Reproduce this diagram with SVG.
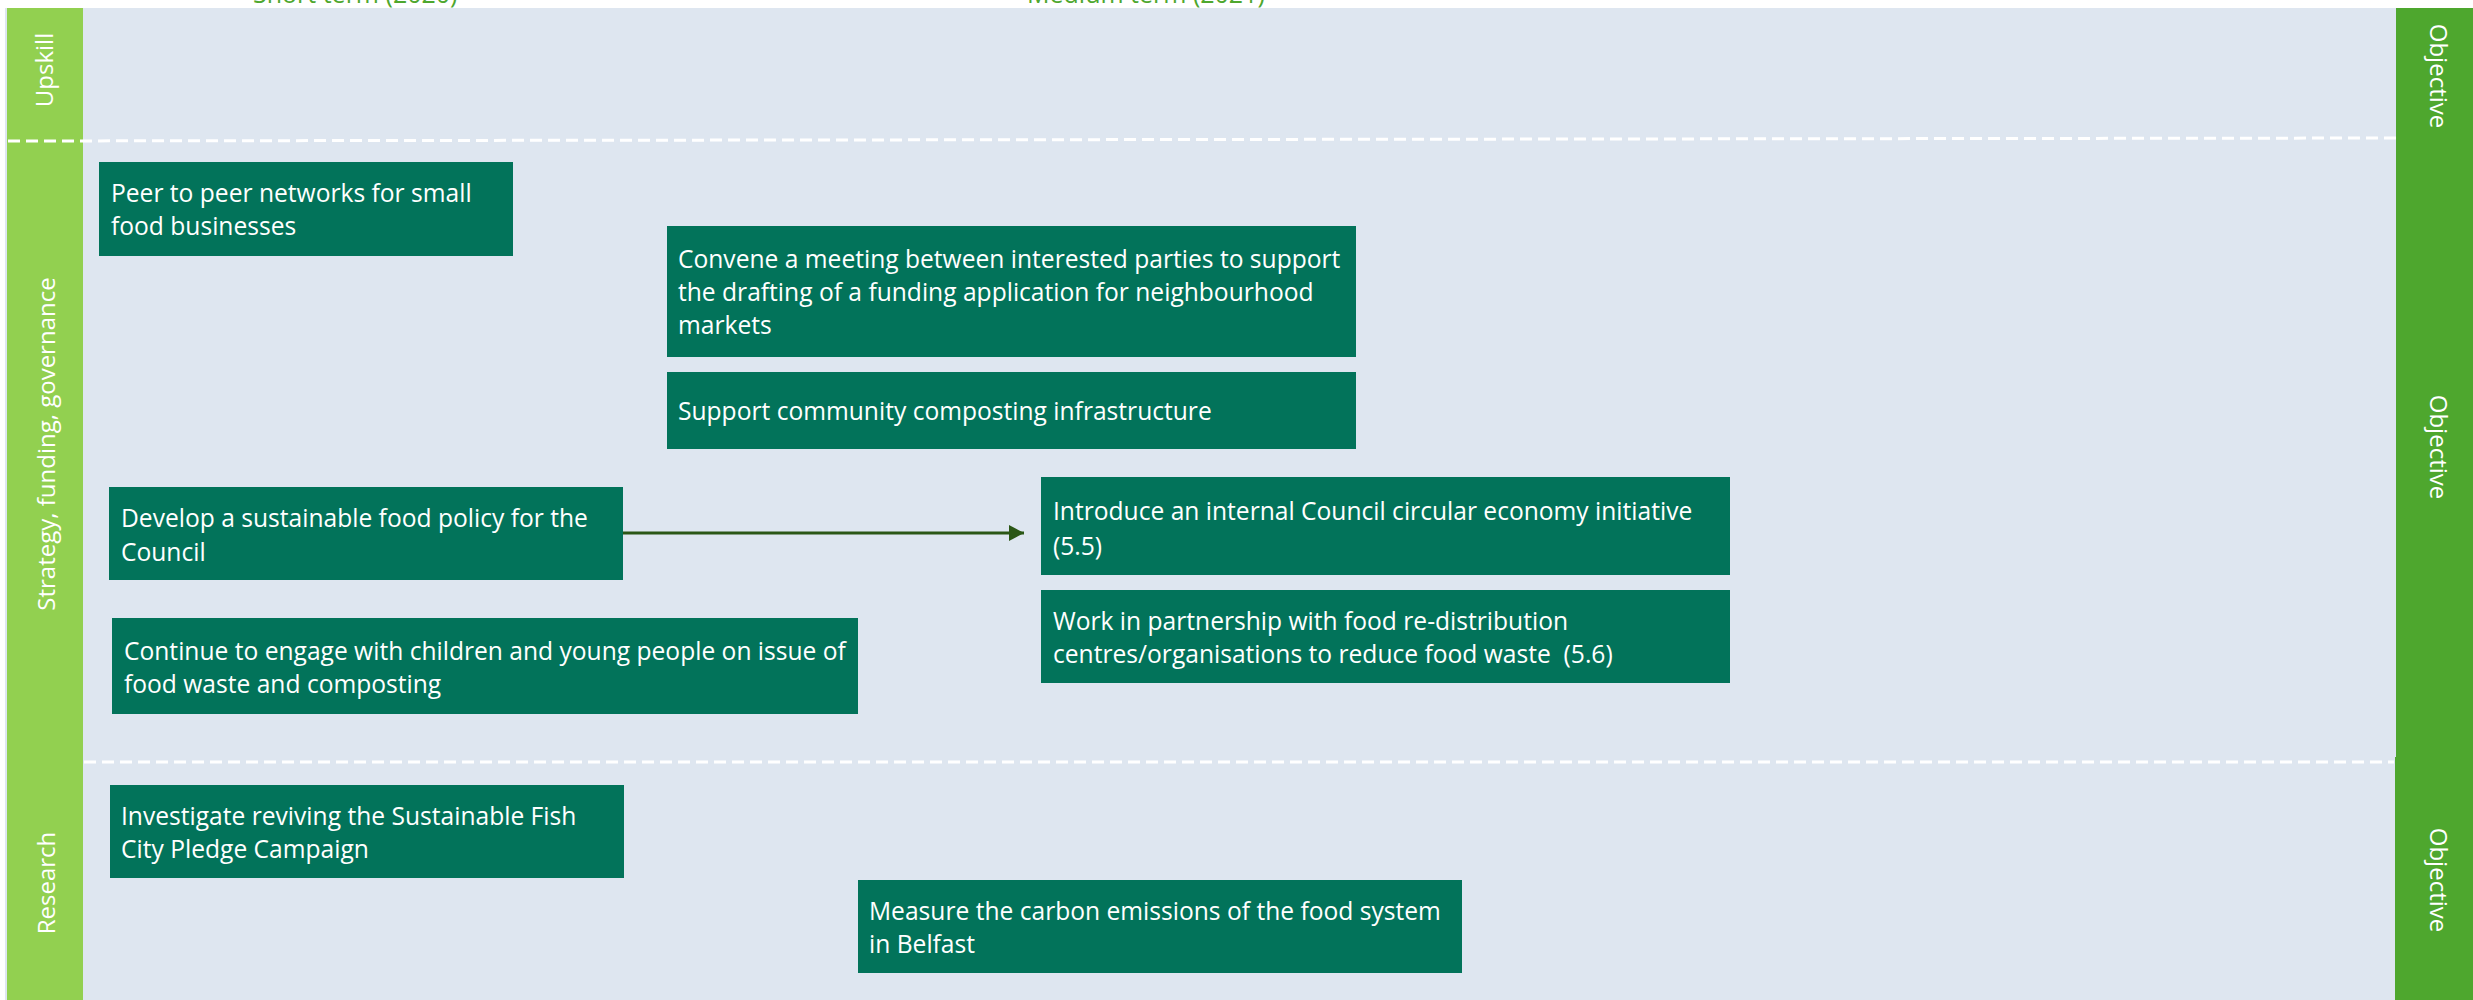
<svg xmlns="http://www.w3.org/2000/svg" width="2473" height="1000" viewBox="0 0 2473 1000">
<defs>
<style>
.bg{fill:#DEE6F0}
.lbar{fill:#92D050}
.rbar{fill:#4EA72E}
.box{fill:#02735A}
.bt{font-family:"Open Sans","Liberation Sans",sans-serif;font-size:24.6px;fill:#FFFFFF}
.side{font-family:"Open Sans","Liberation Sans",sans-serif;font-size:24px;fill:#FFFFFF;text-anchor:middle}
.hdr{font-family:"Open Sans","Liberation Sans",sans-serif;font-size:25px;fill:#4EA72E}
.dash{stroke:#FFFFFF;stroke-width:3;stroke-dasharray:12 6;fill:none}
.conn{stroke:#2B5716;stroke-width:3;fill:none}
</style>
<marker id="arr" markerWidth="16" markerHeight="16" refX="15" refY="8" orient="auto" markerUnits="userSpaceOnUse">
<path d="M0,0 L15,8 L0,16 Z" fill="#2B5716"/>
</marker>
</defs>
<rect x="0" y="0" width="2473" height="1000" fill="#FFFFFF"/>
<rect class="bg" x="5" y="8" width="2468" height="992"/>
<g id="headers">
<text class="hdr" x="253" y="3">Short term (2020)</text>
<text class="hdr" x="1027" y="3">Medium term (2021)</text>
</g>
<g id="lane-left">
<rect class="lbar" x="7" y="8" width="76" height="992"/>
<text class="side" transform="translate(53,70) rotate(-90)">Upskill</text>
<text class="side" transform="translate(55,444) rotate(-90)">Strategy, funding, governance</text>
<text class="side" transform="translate(55,883) rotate(-90)">Research</text>
</g>
<g id="lane-right">
<rect class="rbar" x="2396" y="8" width="77" height="750"/>
<rect class="rbar" x="2395" y="757" width="78" height="243"/>
<text class="side" transform="translate(2430,76) rotate(90)">Objective</text>
<text class="side" transform="translate(2430,447) rotate(90)">Objective</text>
<text class="side" transform="translate(2430,880) rotate(90)">Objective</text>
</g>
<g id="dividers">
<line class="dash" x1="8" y1="141" x2="2396" y2="138"/>
<line class="dash" x1="84" y1="762" x2="2394" y2="762"/>
</g>
<g id="connectors">
<line class="conn" x1="623" y1="533" x2="1024" y2="533" marker-end="url(#arr)"/>
</g>
<g id="n-peer">
<rect class="box" x="99" y="162" width="414" height="94"/>
<text class="bt" x="111" y="202">Peer to peer networks for small</text>
<text class="bt" x="111" y="235">food businesses</text>
</g>
<g id="n-convene">
<rect class="box" x="667" y="226" width="689" height="131"/>
<text class="bt" x="678" y="268">Convene a meeting between interested parties to support</text>
<text class="bt" x="678" y="301">the drafting of a funding application for neighbourhood</text>
<text class="bt" x="678" y="334">markets</text>
</g>
<g id="n-compost">
<rect class="box" x="667" y="372" width="689" height="77"/>
<text class="bt" x="678" y="420">Support community composting infrastructure</text>
</g>
<g id="n-policy">
<rect class="box" x="109" y="487" width="514" height="93"/>
<text class="bt" x="121" y="527">Develop a sustainable food policy for the</text>
<text class="bt" x="121" y="561">Council</text>
</g>
<g id="n-circular">
<rect class="box" x="1041" y="477" width="689" height="98"/>
<text class="bt" x="1053" y="520">Introduce an internal Council circular economy initiative</text>
<text class="bt" x="1053" y="555">(5.5)</text>
</g>
<g id="n-redistribution">
<rect class="box" x="1041" y="590" width="689" height="93"/>
<text class="bt" x="1053" y="630">Work in partnership with food re-distribution</text>
<text class="bt" x="1053" y="663" xml:space="preserve">centres/organisations to reduce food waste  (5.6)</text>
</g>
<g id="n-children">
<rect class="box" x="112" y="618" width="746" height="96"/>
<text class="bt" x="124" y="660">Continue to engage with children and young people on issue of</text>
<text class="bt" x="124" y="693">food waste and composting</text>
</g>
<g id="n-fish">
<rect class="box" x="110" y="785" width="514" height="93"/>
<text class="bt" x="121" y="825">Investigate reviving the Sustainable Fish</text>
<text class="bt" x="121" y="858">City Pledge Campaign</text>
</g>
<g id="n-carbon">
<rect class="box" x="858" y="880" width="604" height="93"/>
<text class="bt" x="869" y="920">Measure the carbon emissions of the food system</text>
<text class="bt" x="869" y="953">in Belfast</text>
</g>
</svg>
